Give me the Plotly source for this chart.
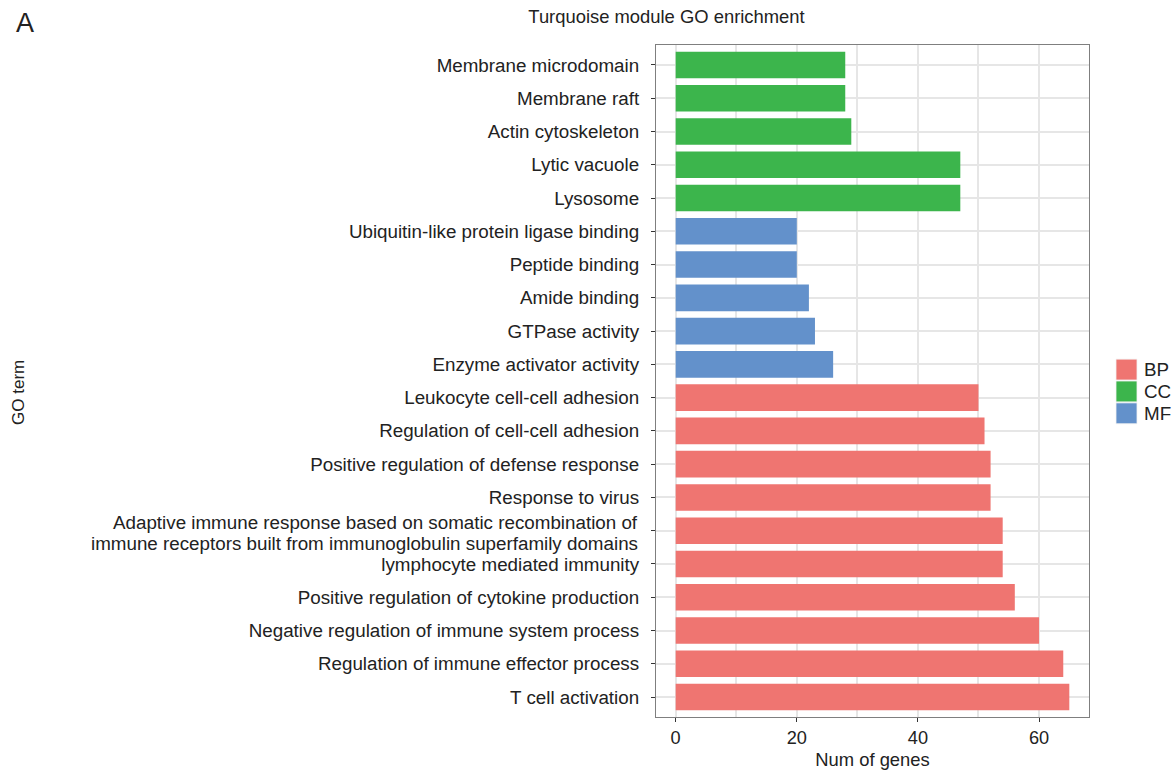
import plotly.graph_objects as go

# GO terms listed bottom-to-top, with gene counts and ontology class
terms = [
    "T cell activation",
    "Regulation of immune effector process",
    "Negative regulation of immune system process",
    "Positive regulation of cytokine production",
    "lymphocyte mediated immunity",
    "Adaptive immune response based on somatic recombination of immune receptors built from immunoglobulin superfamily domains",
    "Response to virus",
    "Positive regulation of defense response",
    "Regulation of cell-cell adhesion",
    "Leukocyte cell-cell adhesion",
    "Enzyme activator activity",
    "GTPase activity",
    "Amide binding",
    "Peptide binding",
    "Ubiquitin-like protein ligase binding",
    "Lysosome",
    "Lytic vacuole",
    "Actin cytoskeleton",
    "Membrane raft",
    "Membrane microdomain",
]
num_genes = [65, 64, 60, 56, 54, 54, 52, 52, 51, 50,
             26, 23, 22, 20, 20,
             47, 47, 29, 28, 28]
ontology = ["BP"] * 10 + ["MF"] * 5 + ["CC"] * 5

# the long term is shown wrapped over two lines
long_term = terms[5]
long_term_lines = ["Adaptive immune response based on somatic recombination of",
                   "immune receptors built from immunoglobulin superfamily domains"]

classes = ["BP", "CC", "MF"]
class_colors = {"BP": "#EF7571", "CC": "#3CB54C", "MF": "#6391CB"}

TEXT = "#222222"
FONT = "Liberation Sans, Arial, Helvetica, sans-serif"
LABEL_SIZE = 18.8

fig = go.Figure()
for cls in classes:
    ys = [t for t, o in zip(terms, ontology) if o == cls]
    xs = [v for v, o in zip(num_genes, ontology) if o == cls]
    fig.add_trace(go.Bar(
        x=xs, y=ys, orientation="h", name=cls,
        marker=dict(color=class_colors[cls], line=dict(width=0)),
        width=0.8, showlegend=False,
    ))

# panel edges in pixels
W, H = 1175, 779
L, R, T, B = 656, 1089, 45, 721


def px_x(x):
    return (x - L) / (R - L)


def px_y(y):
    return (B - y) / (B - T)


fig.update_layout(
    width=W, height=H,
    margin=dict(l=L, r=W - R, t=T, b=H - B, pad=0),
    paper_bgcolor="white", plot_bgcolor="white",
    font=dict(family=FONT, color=TEXT, size=16),
    bargap=0.2,
    title=dict(text="Turquoise module GO enrichment", x=666.5 / W, xanchor="center",
               y=1 - 17 / H, yanchor="middle", font=dict(size=18.4, color=TEXT)),
    xaxis=dict(
        range=[-3.25, 68.25], tickvals=[0, 20, 40, 60], ticktext=["0", "20", "40", "60"],
        showgrid=True, gridcolor="#E6E6E6", gridwidth=1.6,
        minor=dict(tickvals=[10, 30, 50], showgrid=True, gridcolor="#E6E6E6", gridwidth=1.6),
        zeroline=False, showline=True, mirror=True, linecolor="#7F7F7F", linewidth=1.2,
        ticks="outside", ticklen=4, tickcolor="#333333", tickwidth=1.2,
        tickfont=dict(size=18.2, color=TEXT),
        title=dict(text="Num of genes", font=dict(size=18.4, color=TEXT), standoff=6),
    ),
    yaxis=dict(
        type="category", categoryorder="array", categoryarray=terms,
        tickvals=terms, ticktext=["" if t == long_term else t for t in terms],
        range=[-0.6, len(terms) - 0.4],
        showgrid=True, gridcolor="#E6E6E6", gridwidth=1.6,
        zeroline=False, showline=True, mirror=True, linecolor="#7F7F7F", linewidth=1.2,
        ticks="outside", ticklen=4, tickcolor="#333333", tickwidth=1.2,
        tickfont=dict(size=LABEL_SIZE, color=TEXT), ticklabelstandoff=8,
    ),
)

# wrapped label for the long term, one line per annotation
for line, shift in zip(long_term_lines, [8, -13]):
    fig.add_annotation(text=line, xref="paper", yref="y", x=px_x(639.5), y=long_term,
                       yshift=shift, showarrow=False, xanchor="right", yanchor="middle",
                       font=dict(size=LABEL_SIZE, color=TEXT))

# panel letter and y-axis title
fig.add_annotation(text="A", x=px_x(24.5), y=px_y(23), xref="paper", yref="paper",
                   showarrow=False, xanchor="center", yanchor="middle",
                   font=dict(size=27, color=TEXT))
fig.add_annotation(text="GO term", x=px_x(19), y=px_y(395), xref="paper", yref="paper",
                   showarrow=False, textangle=-90, xanchor="center", yanchor="middle",
                   font=dict(size=17, color=TEXT))

# legend keys drawn as squares with labels beside them
key_x0, key_x1 = 1116, 1137
key_tops = [361, 383, 405]
for cls, top in zip(classes, key_tops):
    fig.add_shape(type="rect", xref="paper", yref="paper",
                  x0=px_x(key_x0), x1=px_x(key_x1),
                  y0=px_y(top + 21), y1=px_y(top),
                  fillcolor=class_colors[cls], line=dict(width=0.8, color="#F2F2F2"))
    fig.add_annotation(text=cls, xref="paper", yref="paper",
                       x=px_x(1142), y=px_y(top + 10.5),
                       showarrow=False, xanchor="left", yanchor="middle",
                       font=dict(size=LABEL_SIZE, color=TEXT))

fig.write_html("out.html")
